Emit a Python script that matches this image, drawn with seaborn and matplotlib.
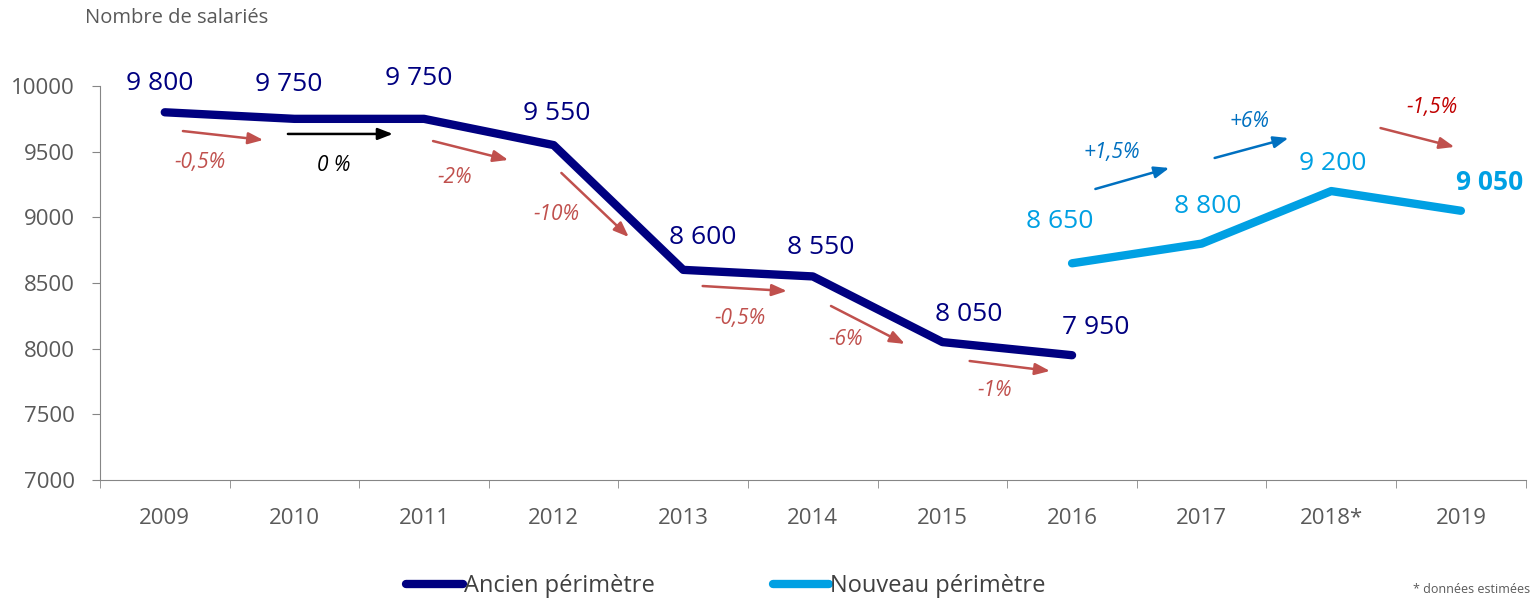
import pandas as pd
import matplotlib.pyplot as plt
import seaborn as sns

# données
annees = ["2009", "2010", "2011", "2012", "2013", "2014", "2015", "2016", "2017", "2018*", "2019"]
ancien = [9800, 9750, 9750, 9550, 8600, 8550, 8050, 7950]
nouveau = [8650, 8800, 9200, 9050]
variations = ["-0,5%", "0 %", "-2%", "-10%", "-0,5%", "-6%", "-1%", "+1,5%", "+6%", "-1,5%"]

sns.set_style("white")
plt.rcParams["font.family"] = ["Open Sans", "DejaVu Sans"]

NAVY = "#000080"
BLEU = "#00A0E3"
ROUGE = "#C0504D"
BLEU_F = "#0070C0"
GRIS = "#595959"

df = pd.concat([
    pd.DataFrame({"x": range(0, 8), "val": ancien, "serie": "Ancien périmètre"}),
    pd.DataFrame({"x": range(7, 11), "val": nouveau, "serie": "Nouveau périmètre"}),
])

fig = plt.figure(figsize=(15.38, 5.99), dpi=100)
ax = fig.add_axes([0.065, 0.1987, 0.927, 0.6577])

sns.lineplot(data=df, x="x", y="val", hue="serie", palette=[NAVY, BLEU],
             linewidth=6, ax=ax, legend=False, solid_capstyle="round")

ax.set_xlim(-0.5, 10.5)
ax.set_ylim(7000, 10000)
ax.set_yticks(range(7000, 10001, 500))
ax.tick_params(axis="y", labelsize=16, labelcolor=GRIS, color="#868686",
               direction="out", length=6, left=True, pad=12)
ax.set_xticks(range(len(annees)))
ax.set_xticklabels(annees)
ax.set_xticks([i + 0.5 for i in range(-1, 11)], minor=True)
ax.tick_params(axis="x", which="major", length=0, labelsize=16, labelcolor=GRIS, pad=20)
ax.tick_params(axis="x", which="minor", length=6, color="#868686", direction="out", bottom=True)
for s in ["top", "right"]:
    ax.spines[s].set_visible(False)
for s in ["left", "bottom"]:
    ax.spines[s].set_color("#868686")
ax.set_xlabel("")
ax.set_ylabel("")

# étiquettes de valeurs (décalages en points)
dec_anc = [(-4, 21), (-4, 25), (-4, 29), (2, 23), (14, 23), (6, 21), (19, 20), (17, 20)]
for i, (v, d) in enumerate(zip(ancien, dec_anc)):
    ax.annotate(f"{v:,}".replace(",", " "), (i, v), xytext=d, textcoords="offset points",
                ha="center", va="center", color=NAVY, fontsize=19)
dec_nou = [(-9, 30), (4, 27), (1, 20), (21, 20)]
for j, (v, d) in enumerate(zip(nouveau, dec_nou)):
    ax.annotate(f"{v:,}".replace(",", " "), (7 + j, v), xytext=d, textcoords="offset points",
                ha="center", va="center", color=BLEU, fontsize=19,
                fontweight="bold" if j == 3 else "normal")

# flèches d'évolution
fleches = [
    ((0.14, 9657), (0.76, 9589), (0.27, 9421), ROUGE, ROUGE),
    ((0.95, 9635), (1.76, 9635), (1.30, 9398), "black", "black"),
    ((2.07, 9581), (2.65, 9437), (2.24, 9300), ROUGE, ROUGE),
    ((3.06, 9338), (3.58, 8850), (3.02, 9018), ROUGE, ROUGE),
    ((4.15, 8477), (4.80, 8439), (4.44, 8226), ROUGE, ROUGE),
    ((5.14, 8325), (5.71, 8036), (5.25, 8066), ROUGE, ROUGE),
    ((6.21, 7906), (6.83, 7830), (6.40, 7678), ROUGE, ROUGE),
    ((7.18, 9216), (7.75, 9376), (7.31, 9497), BLEU_F, BLEU_F),
    ((8.10, 9452), (8.67, 9604), (8.37, 9726), BLEU_F, BLEU_F),
    ((9.38, 9680), (9.95, 9536), (9.78, 9840), ROUGE, "#C00000"),
]
for (p0, p1, pt, c_f, c_t), txt in zip(fleches, variations):
    ax.annotate("", xy=p1, xytext=p0,
                arrowprops=dict(arrowstyle="-|>,head_length=0.9,head_width=0.35",
                                color=c_f, lw=1.8, shrinkA=0, shrinkB=0))
    ax.text(pt[0], pt[1], txt, color=c_t, fontsize=15, style="italic",
            ha="center", va="center")

fig.text(85 / 1538, 1 - 18 / 599, "Nombre de salariés", color=GRIS, fontsize=14.5,
         ha="left", va="center")

h1 = plt.Line2D([], [], color=NAVY, lw=6, solid_capstyle="round")
h2 = plt.Line2D([], [], color=BLEU, lw=6, solid_capstyle="round")
fig.legend([h1, h2], ["Ancien périmètre", "Nouveau périmètre"], loc="center",
           bbox_to_anchor=(0.472, 0.022), ncol=2, frameon=False, fontsize=17,
           handlelength=2.4, handletextpad=0.05, columnspacing=5.0,
           labelcolor="#404040")

fig.text(0.995, 0.005, "* données estimées", color=GRIS, fontsize=9,
         ha="right", va="bottom")

fig.savefig("out.png", dpi=100)
